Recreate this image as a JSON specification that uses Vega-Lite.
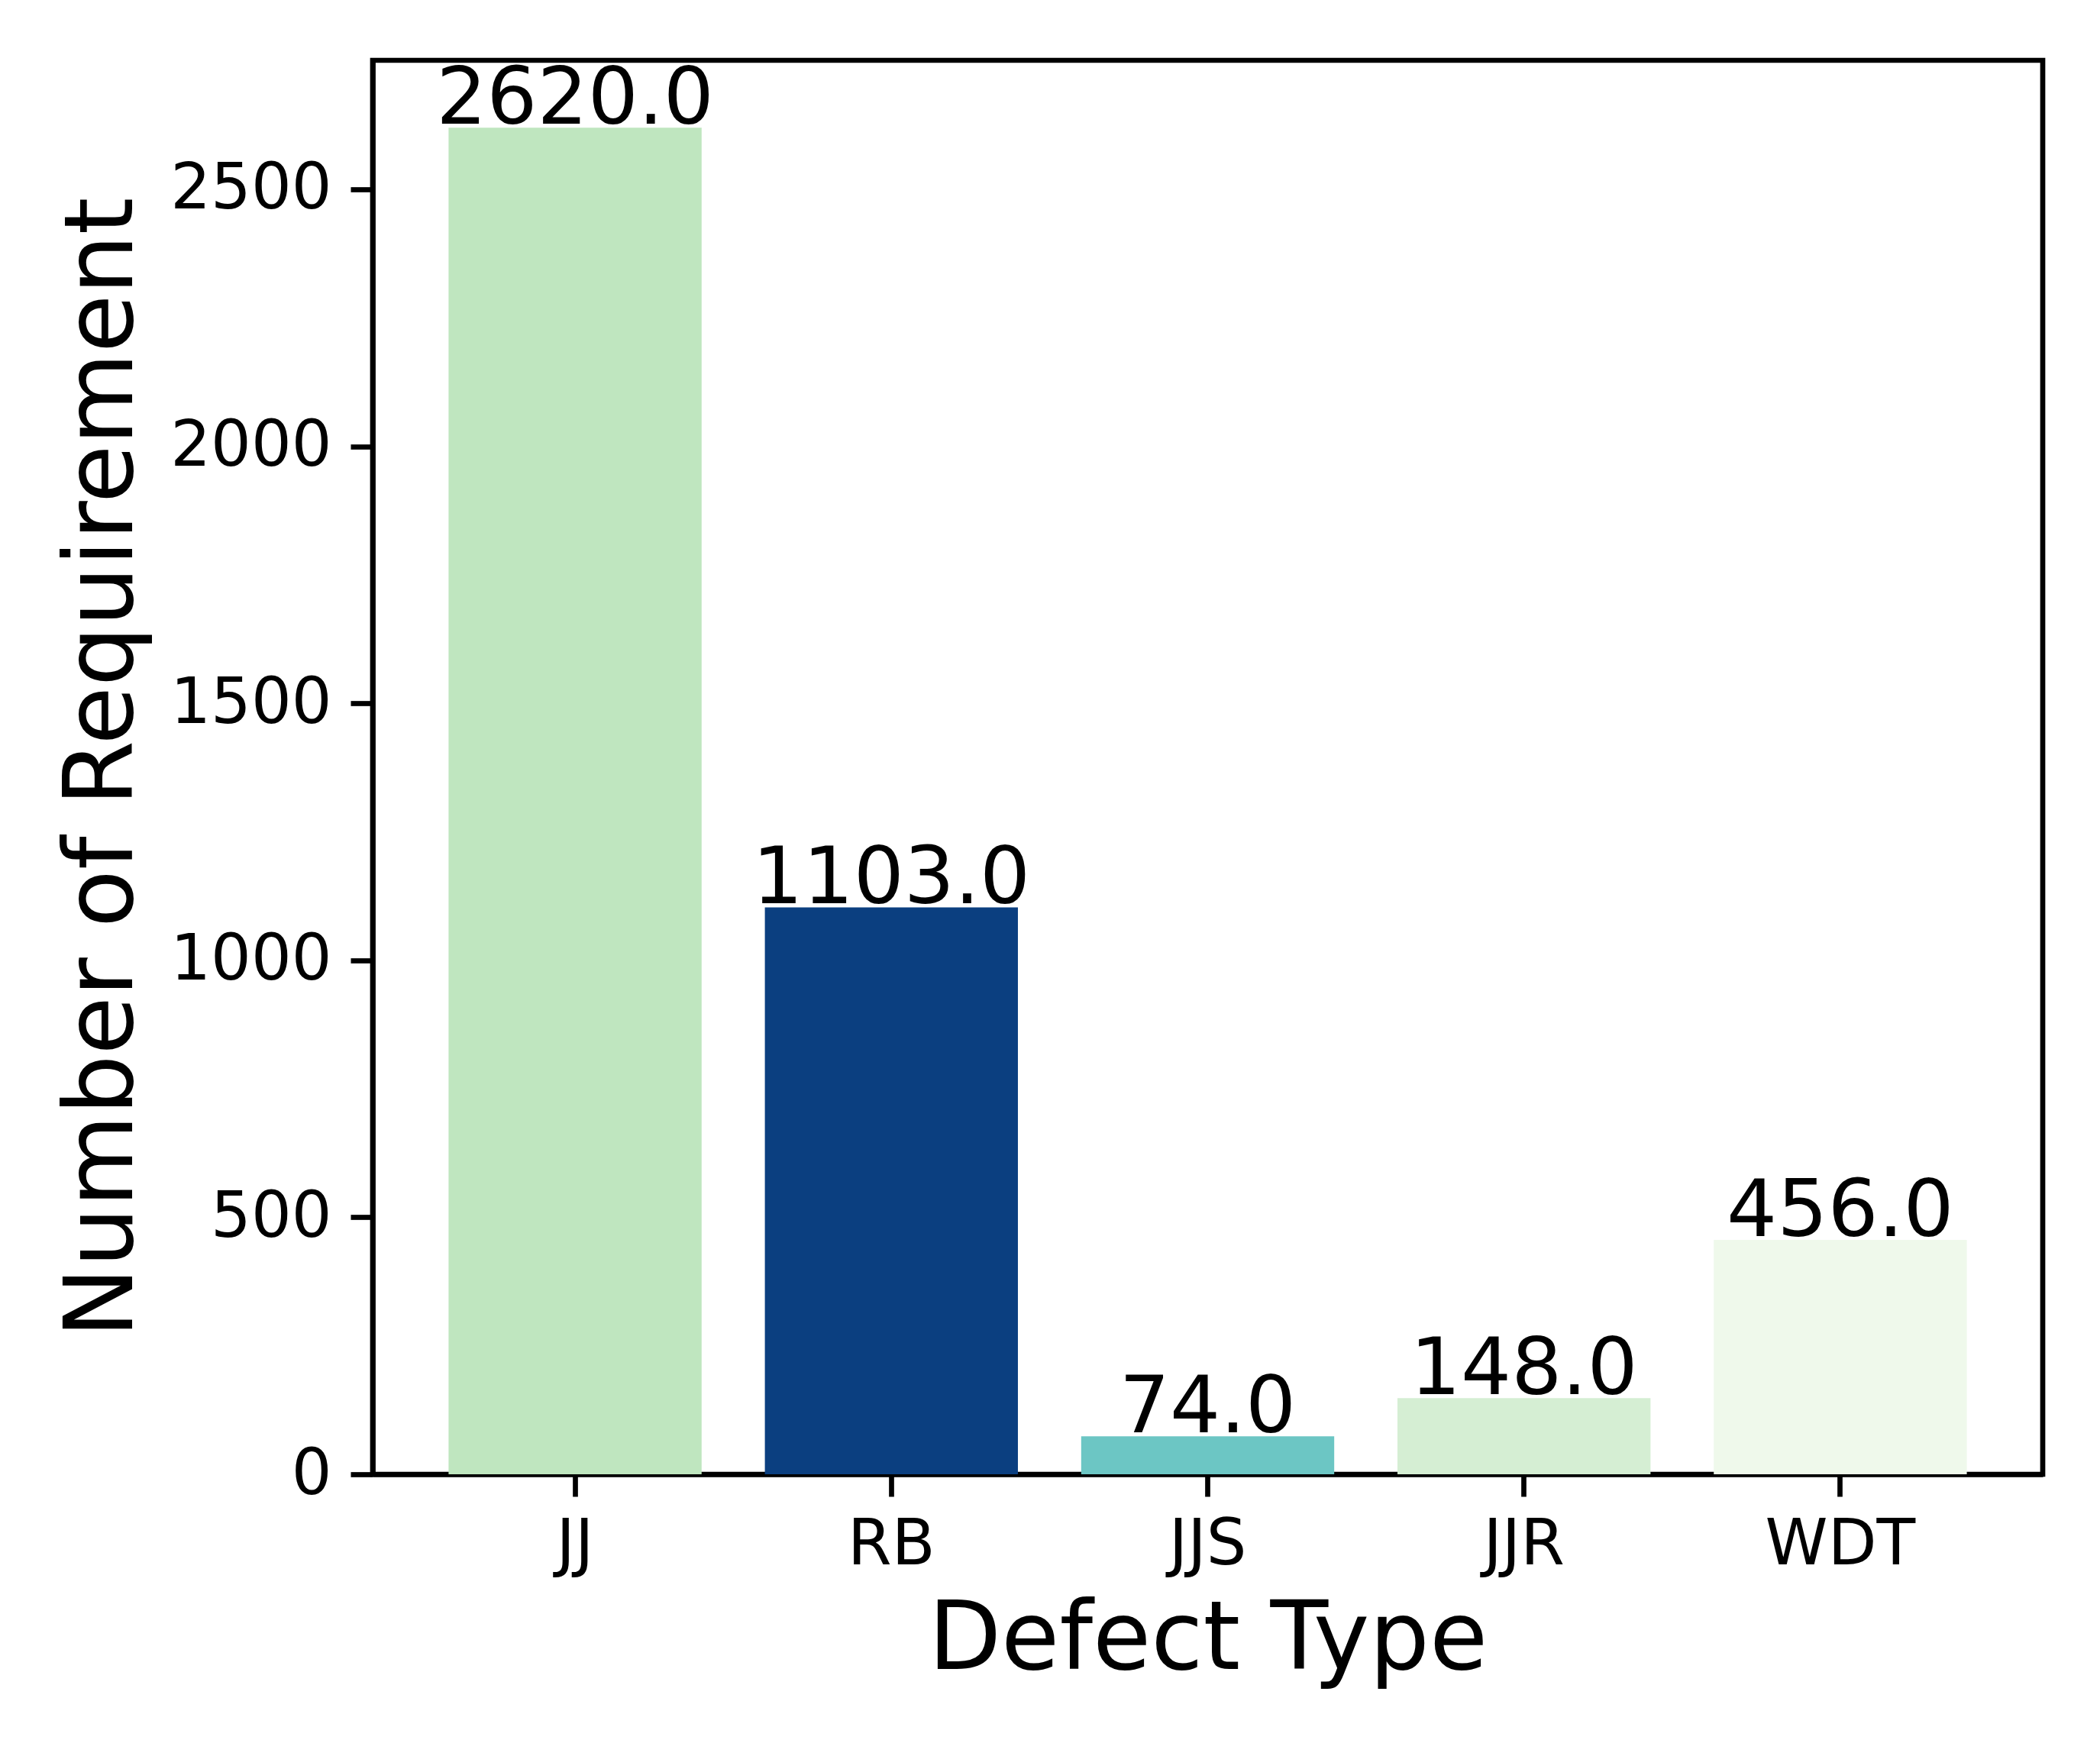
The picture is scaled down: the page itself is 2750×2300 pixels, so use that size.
{
  "$schema": "https://vega.github.io/schema/vega-lite/v6.json",
  "width": 2187,
  "height": 1852,
  "autosize": {"type": "none"},
  "padding": {"left": 488, "top": 79, "right": 75, "bottom": 369},
  "background": "white",
  "config": {
    "font": "DejaVu Sans",
    "view": {"stroke": "black", "strokeWidth": 6.7},
    "axis": {
      "grid": false,
      "domainColor": "black",
      "domainWidth": 6.7,
      "tickColor": "black",
      "tickWidth": 6.7,
      "tickSize": 29,
      "labelPadding": 29,
      "labelLimit": 1000,
      "labelFont": "DejaVu Sans",
      "labelFontSize": 83,
      "labelColor": "black",
      "titleFont": "DejaVu Sans",
      "titleFontSize": 124,
      "titleFontWeight": "normal",
      "titleColor": "black"
    }
  },
  "data": {
    "values": [
      {"type": "JJ", "count": 2620, "color": "#bfe6bf"},
      {"type": "RB", "count": 1103, "color": "#0b3f80"},
      {"type": "JJS", "count": 74, "color": "#6cc6c4"},
      {"type": "JJR", "count": 148, "color": "#d5eed3"},
      {"type": "WDT", "count": 456, "color": "#eff9eb"}
    ]
  },
  "encoding": {
    "x": {
      "field": "type",
      "type": "nominal",
      "sort": null,
      "scale": {"paddingInner": 0.2, "paddingOuter": 0.24},
      "axis": {"title": "Defect Type", "labelAngle": 0, "labelPadding": 22, "titlePadding": 22}
    },
    "y": {
      "field": "count",
      "type": "quantitative",
      "scale": {"domain": [0, 2751], "nice": false},
      "axis": {"title": "Number of Requirement", "format": "d", "values": [0, 500, 1000, 1500, 2000, 2500], "labelPadding": 25, "titlePadding": 90}
    }
  },
  "layer": [
    {
      "mark": {"type": "bar"},
      "encoding": {
        "color": {"field": "color", "type": "nominal", "scale": null}
      }
    },
    {
      "mark": {"type": "text", "baseline": "alphabetic", "align": "center", "fontSize": 104, "font": "DejaVu Sans", "color": "black", "dy": -5},
      "encoding": {
        "text": {"field": "count", "type": "quantitative", "format": ".1f"}
      }
    }
  ]
}
